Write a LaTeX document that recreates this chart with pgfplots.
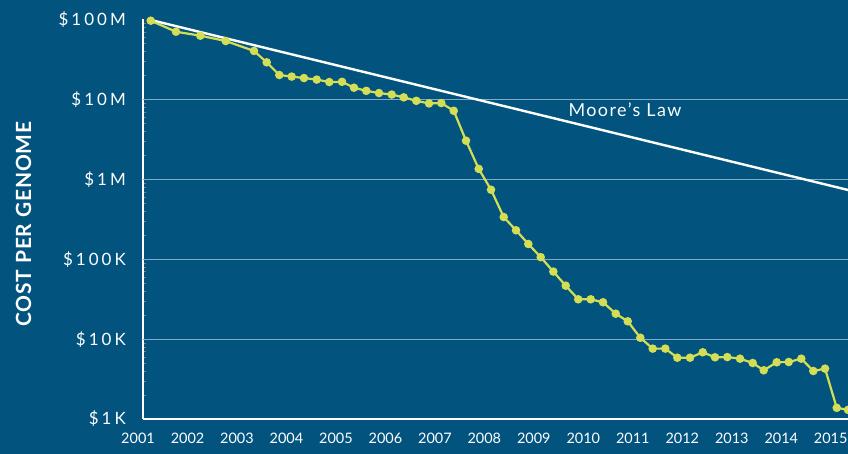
\documentclass[border=0pt]{standalone}
\usepackage{pgfplots}
\pgfplotsset{compat=1.18}
\usepackage{fontspec}
\setmainfont{Lato}
\newfontfamily\spaced[LetterSpace=18]{Lato}
\newfontfamily\mspaced[LetterSpace=8]{Lato}
\newfontfamily\lspaced[LetterSpace=4]{Lato}
\definecolor{bg}{RGB}{2,84,127}
\definecolor{gridc}{RGB}{130,170,200}
\definecolor{yel}{RGB}{212,222,84}
\begin{document}
\begin{tikzpicture}
\useasboundingbox (-143bp,-35bp) rectangle (705bp,419bp);
\fill[bg] (-143bp,-35bp) rectangle (705bp,419bp);
\begin{axis}[
  at={(0,0)}, anchor=south west,
  scale only axis, width=705bp, height=399.5bp,
  xmin=2001.514, xmax=2015.785,
  ymode=log, ymin=1000, ymax=1e8,
  clip=false,
  axis lines*=left,
  axis line style={white, line width=1.3bp},
  major tick length=0pt,
  xtick={2002.415,2003.416,2004.418,2005.419,2006.421,2007.423,2008.424,2009.426,2010.427,2011.429,2012.431,2013.432,2014.434,2015.435},
  xticklabels={2002,2003,2004,2005,2006,2007,2008,2009,2010,2011,2012,2013,2014,2015},
  ytick={1000,10000,100000,1000000,10000000,100000000},
  yticklabels={\$1K,\$10K,\$100K,\$1M,\$10M,\$100M},
  extra y ticks={10000,100000,1000000,10000000},
  extra y tick labels={},
  extra y tick style={grid=major, major grid style={gridc, line width=1bp}},
  xticklabel style={white, font=\fontsize{14.5}{16}\selectfont, inner sep=0pt, anchor=north, yshift=-14bp},
  yticklabel style={white, font=\fontsize{17}{19}\selectfont\spaced, inner sep=0pt, anchor=east, xshift=-17bp},
]
\addplot[white, line width=2.4bp] coordinates {(2001.670,9.86e7) (2015.785,7.35e5)};
\addplot[yel, line width=2.2bp, mark=*, mark size=3.1bp, mark options={fill=yel, draw=yel}] coordinates {
(2001.670,96.6e6)
(2002.182,70.3e6)
(2002.674,62.7e6)
(2003.188,53.8e6)
(2003.761,40.4e6)
(2004.018,29.1e6)
(2004.273,20.2e6)
(2004.524,19.3e6)
(2004.773,18.5e6)
(2005.030,17.7e6)
(2005.285,16.5e6)
(2005.543,16.6e6)
(2005.785,14.0e6)
(2006.034,12.8e6)
(2006.291,12.0e6)
(2006.549,11.5e6)
(2006.792,10.6e6)
(2007.047,9.6e6)
(2007.304,8.9e6)
(2007.553,9.0e6)
(2007.804,7.2e6)
(2008.053,3.04e6)
(2008.310,1.35e6)
(2008.559,7.4e5)
(2008.816,3.37e5)
(2009.065,2.30e5)
(2009.314,1.55e5)
(2009.565,1.06e5)
(2009.820,7.0e4)
(2010.071,4.66e4)
(2010.324,3.15e4)
(2010.577,3.15e4)
(2010.826,2.89e4)
(2011.083,2.08e4)
(2011.326,1.67e4)
(2011.581,1.04e4)
(2011.832,7.6e3)
(2012.087,7.6e3)
(2012.330,5.85e3)
(2012.587,5.85e3)
(2012.844,6.84e3)
(2013.093,5.92e3)
(2013.342,5.96e3)
(2013.599,5.69e3)
(2013.856,5.02e3)
(2014.079,4.07e3)
(2014.342,5.13e3)
(2014.585,5.17e3)
(2014.840,5.69e3)
(2015.083,3.99e3)
(2015.320,4.27e3)
(2015.557,1.38e3)
(2015.785,1.30e3)
};
\end{axis}
\node[white, anchor=north, inner sep=0pt, font=\fontsize{14.5}{16}\selectfont] at (-5bp,-14bp) {2001};
\node[white, anchor=base, font=\fontsize{18}{20}\selectfont\mspaced] at (482bp,302bp) {Moore’s Law};
\node[white, rotate=90, font=\fontsize{21}{24}\selectfont\bfseries\lspaced] at (-119.5bp,195bp) {COST PER GENOME};
\end{tikzpicture}
\end{document}
